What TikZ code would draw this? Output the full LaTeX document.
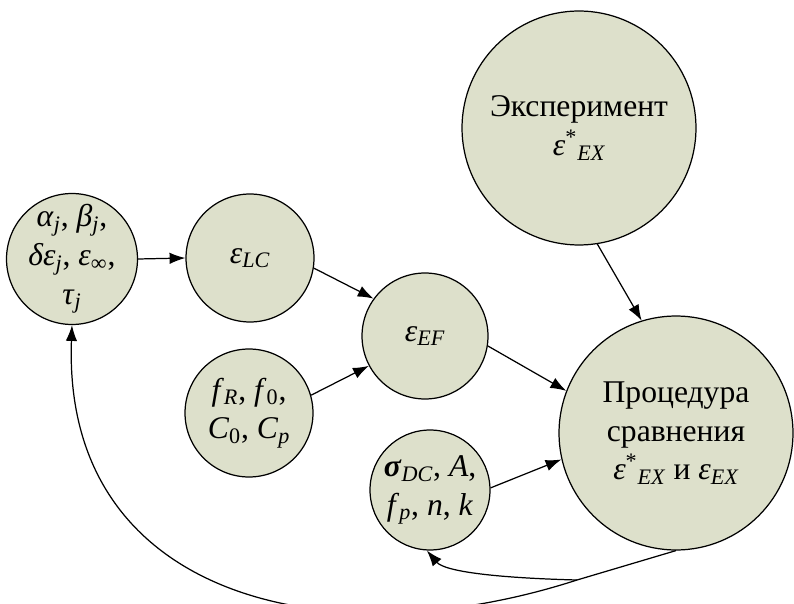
\documentclass[tikz,border=0pt]{standalone}
\usepackage{fontspec}
\setmainfont{Liberation Serif}
\usetikzlibrary{arrows.meta}
\definecolor{sage}{RGB}{221,224,203}
\newcommand{\ix}[1]{\textsubscript{\itshape #1}}

\begin{document}
\begin{tikzpicture}[
    x=0.02cm, y=-0.02cm,
    blob/.style={draw, fill=sage, circle, line width=0.7pt, inner sep=-10pt, minimum size=#1, align=center, font=\fontsize{18}{22}\selectfont},
    arrow/.style={-{Latex[length=9pt,width=6.5pt]}, line width=0.7pt}
]
    \path[use as bounding box, clip] (0,0) rectangle (794,604);

    \node[blob=2.62cm] (params) at (72,259) {\textit{α}\ix{j}, \textit{β}\ix{j},\\ \textit{δε}\ix{j}, \textit{ε}\textsubscript{∞},\\ \textit{τ}\ix{j}};
    \node[blob=2.56cm] (lc) at (250,258) {\textit{ε}\ix{LC}};
    \node[blob=2.52cm] (ef) at (425,336) {\textit{ε}\ix{EF}};
    \node[blob=2.56cm] (fr) at (249,413) {\textit{f}\ix{R}, \textit{f}\textsubscript{0},\\ \textit{C}\textsubscript{0}, \textit{C}\ix{p}};
    \node[blob=2.4cm] (sig) at (430,490) {\textbf{\textit{σ}}\ix{DC}, \textit{A},\\ \textit{f}\ix{p}, \textit{n}, \textit{k}};
    \node[blob=4.68cm] (exp) at (579,128) {Эксперимент\\ \textit{ε}\textsuperscript{*}\ix{EX}};
    \node[blob=4.68cm] (proc) at (676,433) {Процедура\\ сравнения\\ \textit{ε}\textsuperscript{*}\ix{EX} и \textit{ε}\ix{EX}};
    \coordinate (split) at (577,580);

    \draw[arrow] (params.east) -- (lc.west);
    \draw[arrow] (lc.-9) -- (ef.144);
    \draw[arrow] (fr.16) -- (ef.-152);
    \draw[arrow] (ef.-9) -- (proc.159);
    \draw[arrow] (sig.2) -- (proc.-167);
    \draw[arrow] (exp.-81) -- (proc.107);
    \draw[line width=0.7pt] (proc.-90) -- (split);
    \draw[arrow] (split) .. controls (500,578) and (445,572) .. (sig.-93);
    \draw[arrow] (split) .. controls (330,660) and (62,600) .. (params.-90);
\end{tikzpicture}
\end{document}
